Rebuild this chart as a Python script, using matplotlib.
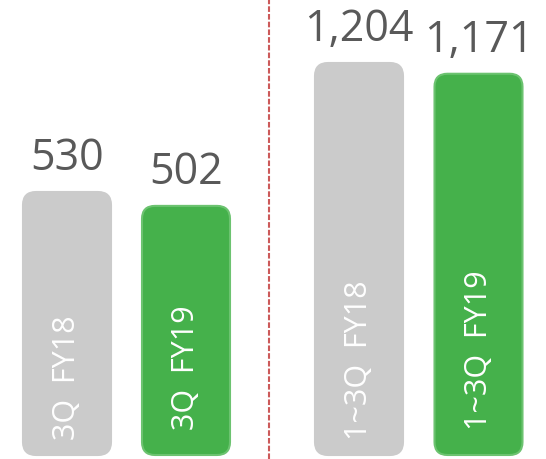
import matplotlib.pyplot as plt
from matplotlib.patches import FancyBboxPatch
from matplotlib.lines import Line2D

# quarter (left) and cumulative (right) values
quarter_labels = ["3Q  FY18", "3Q  FY19"]
quarter_values = [530, 502]
cum_labels = ["1~3Q  FY18", "1~3Q  FY19"]
cum_values = [1204, 1171]

gray = "#cbcbcb"
green = "#45b14b"
text_gray = "#595959"

plt.rcParams['font.family'] = ['Open Sans', 'DejaVu Sans']

fig = plt.figure(figsize=(5.46, 4.59), dpi=100)
W, H = 546.0, 459.0


def draw_group(ax, labels, values, px_per_unit, spacing_px, first_center_px, ax_width_px):
    # y scale: bar base 4 px above the bottom edge
    ymin = -4 / px_per_unit
    ax.set_ylim(ymin, ymin + H / px_per_unit)
    xmin = -first_center_px / spacing_px
    ax.set_xlim(xmin, xmin + ax_width_px / spacing_px)
    ax.axis('off')

    width = 88 / spacing_px
    radius_x = 13 / spacing_px
    aspect = (13 / px_per_unit) / radius_x
    bars = ax.bar(range(len(values)), values, width=width, color=[gray, green])
    for i, rect in enumerate(bars):
        rect.set_visible(False)
        fc = rect.get_facecolor()
        box = FancyBboxPatch((rect.get_x(), rect.get_y()), rect.get_width(), rect.get_height(),
                             boxstyle="round,pad=0,rounding_size=%f" % radius_x,
                             mutation_aspect=aspect, facecolor=fc,
                             edgecolor=("#6cc370" if i == 1 else fc), linewidth=1.5)
        ax.add_patch(box)
        ax.annotate(f"{values[i]:,}", (i, values[i]), xytext=(0, 16), textcoords='offset points',
                    ha='center', va='baseline', fontsize=31, color=text_gray)
        ax.annotate(labels[i], (i, 0), xytext=(0, 11 if i == 0 else 18), textcoords='offset points',
                    ha='center', va='bottom', rotation=90, fontsize=22, color='white')


ax1 = fig.add_axes([0, 0, 268 / W, 1])
draw_group(ax1, quarter_labels, quarter_values, 263 / 530, 119, 67, 268)

ax2 = fig.add_axes([268 / W, 0, 278 / W, 1])
draw_group(ax2, cum_labels, cum_values, 392 / 1204, 119.5, 91, 278)

# divider between the two groups
fig.add_artist(Line2D([269 / W, 269 / W], [0, 1], transform=fig.transFigure,
                      color="#cc5a5a", linewidth=1.5, linestyle=(0, (2.7, 1.0))))

fig.savefig("out.png", dpi=100)
